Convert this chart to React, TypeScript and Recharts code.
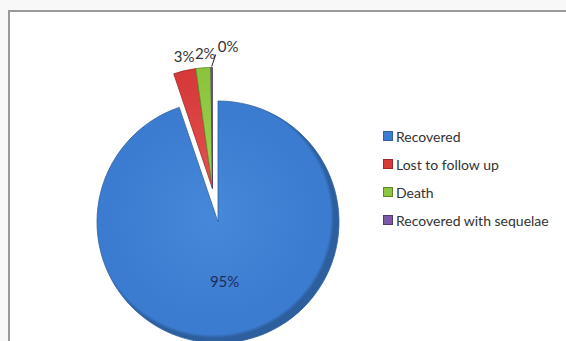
import { PieChart, Pie, Cell, Legend } from 'recharts'

const categories = ['Recovered', 'Lost to follow up', 'Death', 'Recovered with sequelae']
const values = [95, 3, 2, 0.2]
const colors = ['#3c7cd0', '#d63a3a', '#8cc43f', '#7a5aa6']
const lightColors = ['#4688da', '#e55050', '#9fd255', '#8e70b8']
const edgeColors = ['#2d5f9f', '#9c2828', '#5d8a24', '#4e3972']
// explode distance (px) for each slice; exploded slices move together
const explode = [0, 34, 34, 34]

const FONT = 'Lato, "Open Sans", sans-serif'
const CX = 203
const CY = 205
const RADIUS = 121

const data = categories.map((name, i) => ({ name, value: values[i] }))
const total = values.reduce((a, b) => a + b, 0)

function sliceOffset(i: number) {
  if (!explode[i]) return { dx: 0, dy: 0 }
  // direction: middle of the whole exploded group
  const first = explode.findIndex((e) => e > 0)
  const before = values.slice(0, first).reduce((a, b) => a + b, 0)
  const group = values.slice(first).reduce((a, b) => a + b, 0)
  const mid = 90 - ((before + group / 2) / total) * 360
  const rad = (mid * Math.PI) / 180
  return { dx: explode[i] * Math.cos(rad), dy: -explode[i] * Math.sin(rad) }
}

function renderLabel(props: any) {
  const { cx, cy, midAngle, outerRadius, percent, index } = props
  const { dx, dy } = sliceOffset(index)
  const rad = (-midAngle * Math.PI) / 180
  const text = `${Math.round(percent * 100)}%`
  const ox = cx + dx
  const oy = cy + dy

  if (index === 0) {
    const r = outerRadius * 0.49
    return (
      <text x={ox + r * Math.cos(rad) - 3} y={oy + r * Math.sin(rad)} textAnchor="middle"
        dominantBaseline="central" fill="#1d2d5a" fontSize={15} fontFamily={FONT}>
        {text}
      </text>
    )
  }

  if (percent < 0.005) {
    const x1 = ox + (outerRadius + 1) * Math.cos(rad)
    const y1 = oy + (outerRadius + 1) * Math.sin(rad)
    const x2 = x1 + 4
    const y2 = y1 - 12
    return (
      <g>
        <line x1={x1} y1={y1} x2={x2} y2={y2} stroke="#222" strokeWidth={1} />
        <text x={x2 + 2} y={y2 - 8} textAnchor="start" dominantBaseline="central"
          fill="#333" fontSize={15} fontFamily={FONT}>
          {text}
        </text>
      </g>
    )
  }

  const r = outerRadius + 15
  return (
    <text x={ox + r * Math.cos(rad) + 3} y={oy + r * Math.sin(rad)} textAnchor="middle"
      dominantBaseline="central" fill="#333" fontSize={15} fontFamily={FONT}>
      {text}
    </text>
  )
}

function renderLegend() {
  return (
    <div style={{ fontFamily: FONT, fontSize: 14, color: '#333' }}>
      {categories.map((name, i) => (
        <div key={name} style={{ display: 'flex', alignItems: 'center', height: 28 }}>
          <span
            style={{
              width: 8,
              height: 8,
              background: colors[i],
              border: `1px solid ${edgeColors[i]}`,
              marginRight: 3
            }}
          />
          <span>{name}</span>
        </div>
      ))}
    </div>
  )
}

export default function App() {
  return (
    <div
      style={{
        position: 'absolute',
        left: 0,
        top: 0,
        width: 566,
        height: 341,
        background: '#f8f8f8',
        overflow: 'hidden'
      }}
    >
      <div
        style={{
          position: 'absolute',
          left: 8,
          top: 10,
          width: 600,
          height: 400,
          background: '#fff',
          borderLeft: '2px solid #9a9a9a',
          borderTop: '2px solid #9a9a9a'
        }}
      >
        <PieChart width={556} height={329}>
          <defs>
            {colors.map((c, i) => (
              <radialGradient key={i} id={`slice${i}`} gradientUnits="userSpaceOnUse"
                cx={CX} cy={CY} r={RADIUS}>
                <stop offset="0%" stopColor={lightColors[i]} />
                <stop offset="85%" stopColor={c} />
                <stop offset="97%" stopColor={c} />
                <stop offset="100%" stopColor={edgeColors[i]} />
              </radialGradient>
            ))}
          </defs>
          <Pie
            data={data}
            dataKey="value"
            nameKey="name"
            cx={CX}
            cy={CY}
            outerRadius={RADIUS}
            startAngle={90}
            endAngle={-270}
            labelLine={false}
            label={renderLabel}
            isAnimationActive={false}
          >
            {data.map((_, i) => {
              const { dx, dy } = sliceOffset(i)
              return (
                <Cell
                  key={i}
                  fill={`url(#slice${i})`}
                  stroke={edgeColors[i]}
                  strokeWidth={0.8}
                  transform={`translate(${dx}, ${dy})`}
                />
              )
            })}
          </Pie>
          <Legend
            layout="vertical"
            align="right"
            verticalAlign="top"
            wrapperStyle={{ left: 373, top: 110, width: 180 }}
            content={renderLegend}
          />
        </PieChart>
      </div>
    </div>
  )
}
